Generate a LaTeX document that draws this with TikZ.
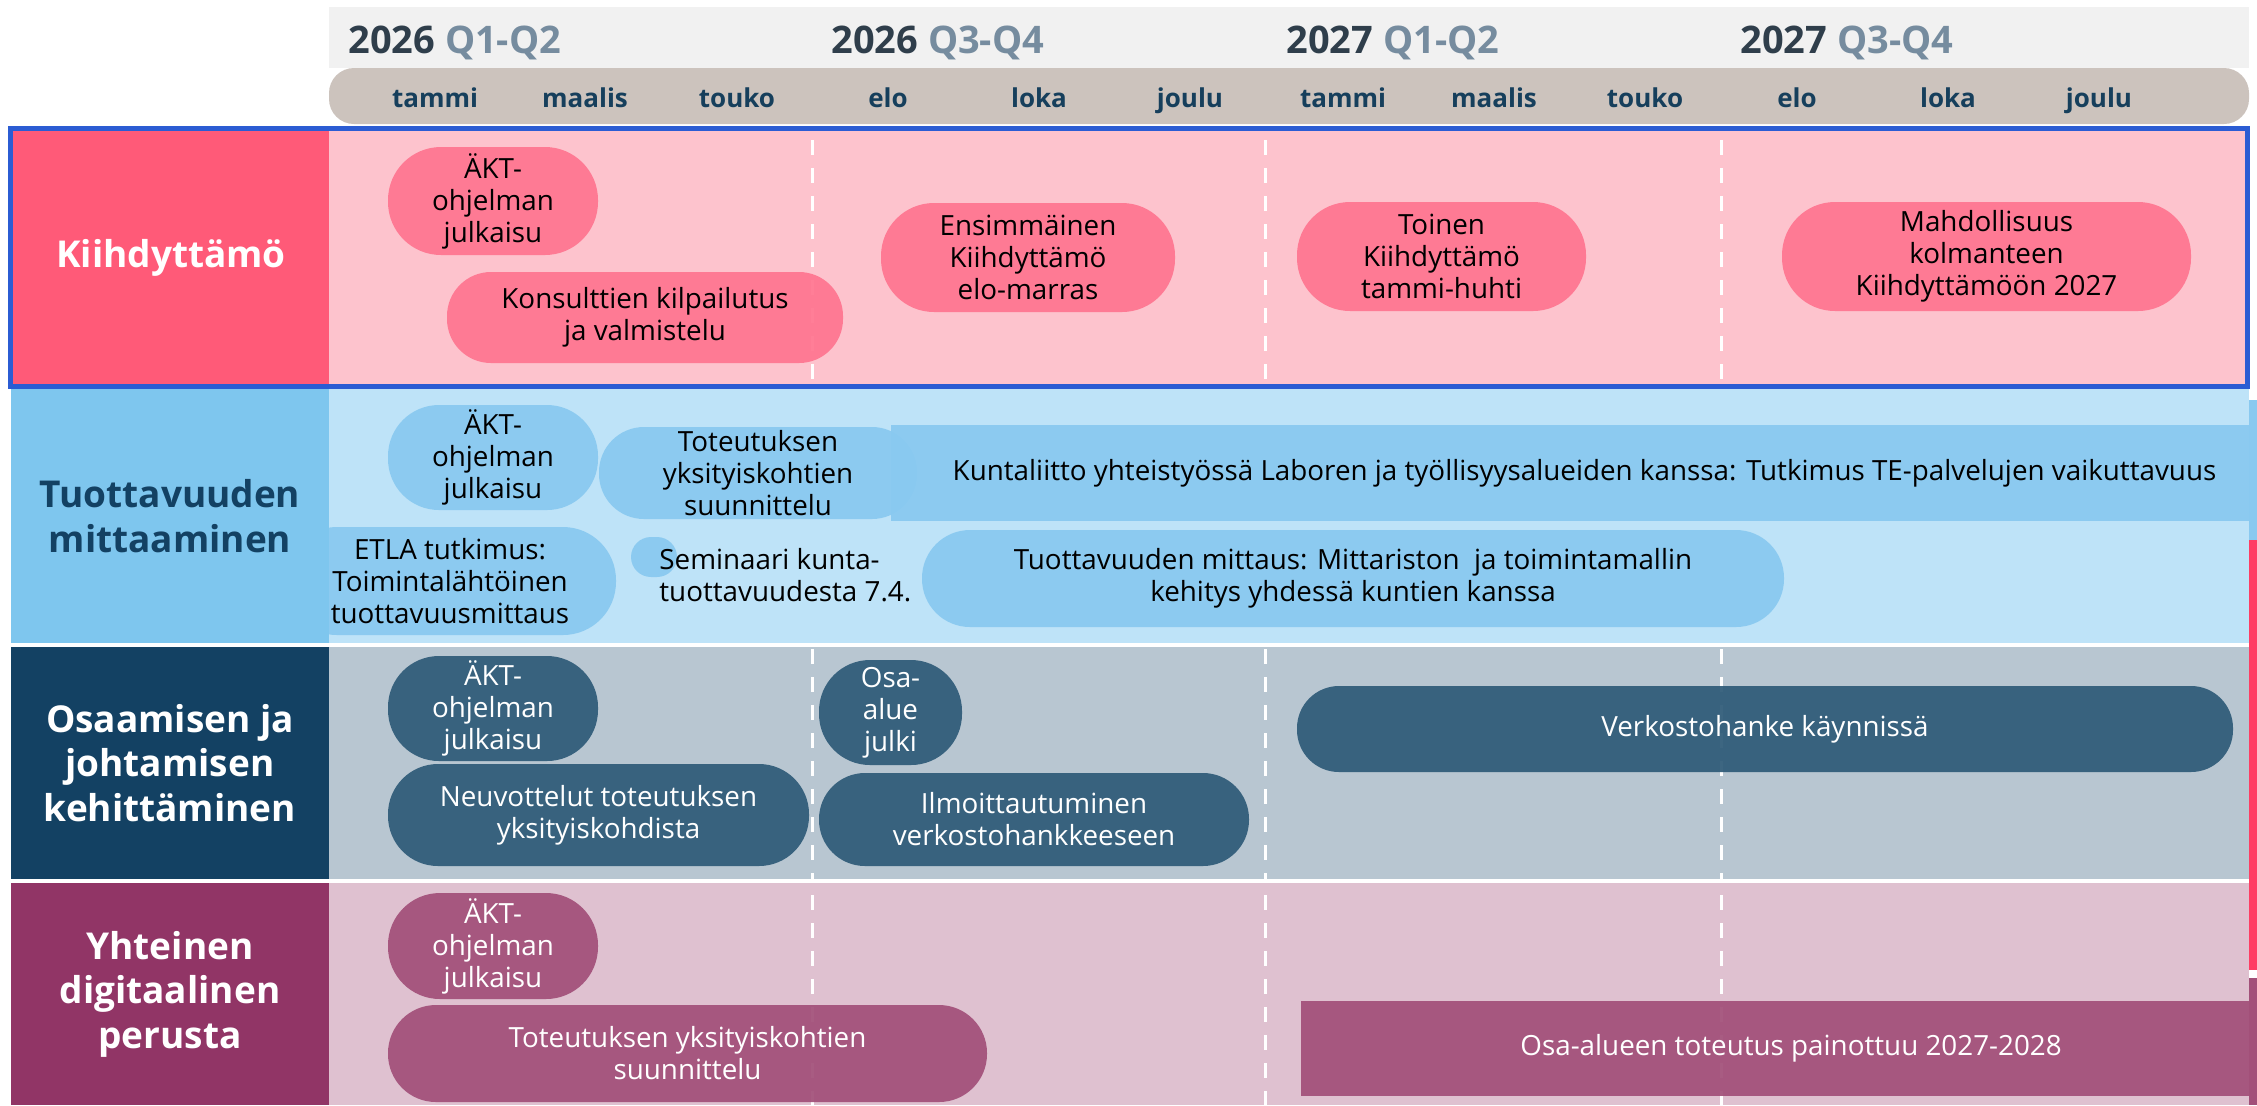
\documentclass[tikz,border=0pt]{standalone}
\usepackage{fontspec}
\setmainfont{Open Sans}
\definecolor{hdrgray}{HTML}{F1F1F1}
\definecolor{taupe}{HTML}{CCC3BD}
\definecolor{yeardark}{HTML}{2F3E4B}
\definecolor{qgray}{HTML}{768C9F}
\definecolor{monthc}{HTML}{163F5C}
\definecolor{bordblue}{HTML}{2B5CD3}
\definecolor{labA}{HTML}{FF5A78}
\definecolor{bgA}{HTML}{FDC3CD}
\definecolor{pillA}{HTML}{FF7590}
\definecolor{labB}{HTML}{7EC6EE}
\definecolor{bgB}{HTML}{BEE3F8}
\definecolor{pillB}{HTML}{89C9F0}
\definecolor{navy}{HTML}{134163}
\definecolor{bgC}{HTML}{B8C6D1}
\definecolor{pillC}{HTML}{2F5B78}
\definecolor{labD}{HTML}{913566}
\definecolor{bgD}{HTML}{DFC1D0}
\definecolor{pillD}{HTML}{A25079}
\definecolor{stripred}{HTML}{FF3D63}
\newcommand\pillfont{\fontsize{13.9}{16}\selectfont}
\newcommand\labfont{\fontsize{18.5}{22.3}\selectfont\bfseries}
\newcommand\yearfont{\fontsize{19}{22}\selectfont\bfseries}
\newcommand\monthfont{\fontsize{13}{16}\selectfont\bfseries}
\begin{document}
\begin{tikzpicture}[x=0.5pt,y=-0.5pt,
  pill/.style={inner sep=0pt, rounded corners=#1, align=center, font=\pillfont, fill opacity=0.93, text opacity=1},
  pill/.default=21pt,
  barbox/.style={inner sep=0pt, align=center, font=\pillfont, fill opacity=0.93, text opacity=1},
  lab/.style={inner sep=0pt, align=center, font=\labfont},
  yearlab/.style={anchor=base west, inner sep=0pt, font=\yearfont},
  monthlab/.style={anchor=base, inner sep=0pt, font=\monthfont, text=monthc},
  gridline/.style={white, line width=1.5pt, dash pattern=on 7.5pt off 6.5pt}]
\useasboundingbox (0,0) rectangle (2257,1105);
% header
\fill[hdrgray] (329,7) rectangle (2249,68);
\fill[taupe, rounded corners=12.5pt] (329,68) rectangle (2249,124);
\node[yearlab] (y1) at (348,53) {\textcolor{yeardark}{2026} \textcolor{qgray}{Q1-Q2}};
\node[yearlab] (y2) at (831,53) {\textcolor{yeardark}{2026} \textcolor{qgray}{Q3-Q4}};
\node[yearlab] (y3) at (1286,53) {\textcolor{yeardark}{2027} \textcolor{qgray}{Q1-Q2}};
\node[yearlab] (y4) at (1740,53) {\textcolor{yeardark}{2027} \textcolor{qgray}{Q3-Q4}};
\node[monthlab] (m1) at (435,107) {tammi};
\node[monthlab] (m2) at (585,107) {maalis};
\node[monthlab] (m3) at (737,107) {touko};
\node[monthlab] (m4) at (888,107) {elo};
\node[monthlab] (m5) at (1039,107) {loka};
\node[monthlab] (m6) at (1190,107) {joulu};
\node[monthlab] (m7) at (1343,107) {tammi};
\node[monthlab] (m8) at (1494,107) {maalis};
\node[monthlab] (m9) at (1645,107) {touko};
\node[monthlab] (m10) at (1797,107) {elo};
\node[monthlab] (m11) at (1948,107) {loka};
\node[monthlab] (m12) at (2099,107) {joulu};
% row backgrounds
\fill[bgA] (329,131) rectangle (2245,384);
\fill[bgB] (329,389) rectangle (2249,643);
\fill[bgC] (329,647) rectangle (2249,879);
\fill[bgD] (329,883) rectangle (2249,1105);
% right edge strips
\fill[pillB] (2249,400) rectangle (2257,540);
\fill[stripred] (2249,540) rectangle (2257,970);
\fill[pillD] (2249,978) rectangle (2257,1105);
% grid lines
\foreach \gx in {812,1265,1721}{
  \draw[gridline] (\gx,140) -- (\gx,379);
  \draw[gridline] (\gx,649) -- (\gx,879);
  \draw[gridline] (\gx,895) -- (\gx,1105);
}
% row 1
\node[pill=26.5pt, fill=pillA, minimum width=105pt, minimum height=54pt] (a1) at (493,201) {ÄKT-\\ohjelman\\julkaisu};
\node[pill=22pt, fill=pillA, minimum width=198pt, minimum height=45.5pt] (a2) at (645,317.5) {Konsulttien kilpailutus\\ja valmistelu};
\node[pill=26.5pt, fill=pillA, minimum width=147pt, minimum height=54.5pt] (a3) at (1028,257.5) {Ensimmäinen\\Kiihdyttämö\\elo-marras};
\node[pill=26.5pt, fill=pillA, minimum width=144.5pt, minimum height=54.5pt] (a4) at (1441.5,256.5) {Toinen\\Kiihdyttämö\\tammi-huhti};
\node[pill=26.5pt, fill=pillA, minimum width=204.5pt, minimum height=54.5pt] (a5) at (1986.5,256.5) {Mahdollisuus\\kolmanteen\\Kiihdyttämöön 2027};
% row 2
\node[pill=25.5pt, fill=pillB, minimum width=105pt, minimum height=52.5pt] (b1) at (493,457.5) {ÄKT-\\ohjelman\\julkaisu};
\node[pill=22.5pt, fill=pillB, minimum width=159pt, minimum height=46pt] (b2) at (758,473) {Toteutuksen\\yksityiskohtien\\suunnittelu};
\node[barbox, fill=pillB, minimum width=693.5pt, minimum height=48pt] (b3) at (1584.5,473) {Kuntaliitto yhteistyössä Laboren ja työllisyysalueiden kanssa: Tutkimus TE-palvelujen vaikuttavuus};
\node[pill=26.5pt, fill=pillB, minimum width=166pt, minimum height=54pt] (b4) at (450,581) {ETLA tutkimus:\\Toimintalähtöinen\\tuottavuusmittaus};
\node[pill=10pt, fill=pillB, minimum width=23pt, minimum height=20pt] (b5) at (654,557) {};
\node[inner sep=0pt, anchor=west, align=left, font=\pillfont] (b6) at (659,575) {Seminaari kunta-\\tuottavuudesta 7.4.};
\node[pill=24pt, fill=pillB, minimum width=431pt, minimum height=48.5pt] (b7) at (1353,578.5) {Tuottavuuden mittaus: Mittariston\ \ ja toimintamallin\\kehitys yhdessä kuntien kanssa};
% row 3
\node[pill=25.5pt, fill=pillC, text=white, minimum width=105pt, minimum height=52.5pt] (c1) at (493,708.5) {ÄKT-\\ohjelman\\julkaisu};
\node[pill=25.5pt, fill=pillC, text=white, minimum width=71.5pt, minimum height=52.5pt] (c2) at (890.5,712.5) {Osa-\\alue\\julki};
\node[pill=25pt, fill=pillC, text=white, minimum width=210.5pt, minimum height=51pt] (c3) at (598.5,815) {Neuvottelut toteutuksen\\yksityiskohdista};
\node[pill=23pt, fill=pillC, text=white, minimum width=215pt, minimum height=46.5pt] (c4) at (1034,819.5) {Ilmoittautuminen\\verkostohankkeeseen};
\node[pill=21pt, fill=pillC, text=white, minimum width=468pt, minimum height=43pt] (c5) at (1765,729) {Verkostohanke käynnissä};
% row 4
\node[pill=26pt, fill=pillD, text=white, minimum width=105pt, minimum height=53pt] (d1) at (493,946) {ÄKT-\\ohjelman\\julkaisu};
\node[pill=24pt, fill=pillD, text=white, minimum width=299.5pt, minimum height=48.5pt] (d2) at (687.5,1053.5) {Toteutuksen yksityiskohtien\\suunnittelu};
\node[barbox, fill=pillD, text=white, minimum width=490pt, minimum height=47.5pt] (d3) at (1791,1048.5) {Osa-alueen toteutus painottuu 2027-2028};
% row labels
\node[lab, fill=labA, text=white, minimum width=158pt, minimum height=126.5pt] (la) at (171,257.5) {Kiihdyttämö};
\node[lab, fill=labB, text=navy, minimum width=159pt, minimum height=127pt] (lb) at (170,516) {Tuottavuuden\\mittaaminen};
\node[lab, fill=navy, text=white, minimum width=159pt, minimum height=116pt] (lc) at (170,763) {Osaamisen ja\\johtamisen\\kehittäminen};
\node[lab, fill=labD, text=white, minimum width=159pt, minimum height=111pt] (ld) at (170,994) {Yhteinen\\digitaalinen\\perusta};
% highlight border
\draw[bordblue, line width=2.5pt] (10.5,128) rectangle (2247.5,386.5);
\end{tikzpicture}
\end{document}
